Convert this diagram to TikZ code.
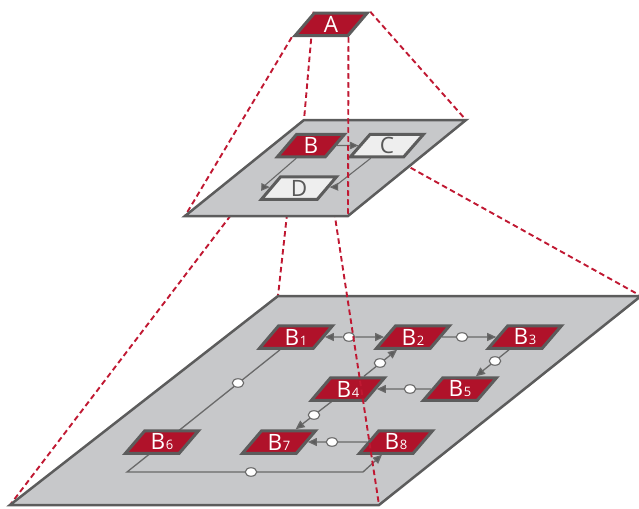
\documentclass[tikz,border=0pt]{standalone}
\usepackage{fontspec}
\setmainfont{Open Sans}
\usetikzlibrary{shapes.geometric,arrows.meta}
\definecolor{nodered}{RGB}{176,18,42}
\definecolor{dashred}{RGB}{192,24,50}
\definecolor{edgegrey}{RGB}{92,92,92}
\definecolor{planegrey}{RGB}{199,200,202}
\definecolor{lightnode}{RGB}{238,238,238}
\definecolor{conngrey}{RGB}{105,105,105}
\definecolor{textgrey}{RGB}{88,88,88}
\pgfdeclarelayer{back}
\pgfdeclarelayer{planeone}
\pgfdeclarelayer{connone}
\pgfdeclarelayer{nodeone}
\pgfdeclarelayer{overone}
\pgfdeclarelayer{planetwo}
\pgfdeclarelayer{conntwo}
\pgfdeclarelayer{nodetwo}
\pgfdeclarelayer{overtwo}
\pgfsetlayers{back,planeone,connone,nodeone,overone,planetwo,conntwo,nodetwo,overtwo,main}
\newcommand\Bidx[1]{B{\fontsize{13pt}{13pt}\selectfont\kern0.6pt #1}}
\tikzset{
  pgram/.style={trapezium, trapezium left angle=40, trapezium right angle=140,
    trapezium stretches body, minimum height=22.5pt, inner sep=0pt,
    line width=3pt, draw=edgegrey, font=\fontsize{22.5pt}{22.5pt}\selectfont},
  redpgram/.style={pgram, fill=nodered, text=white, minimum width=73pt},
  greypgram/.style={pgram, fill=lightnode, text=textgrey, minimum width=74pt},
  plane/.style={fill=planegrey, draw=edgegrey, line width=2.5pt, line join=miter},
  dashline/.style={draw=dashred, line width=1.9pt, dash pattern=on 5.5pt off 3.5pt},
  conn/.style={draw=conngrey, line width=1.3pt},
  connthin/.style={draw=conngrey, line width=1.1pt},
  arr/.style={-{Triangle[length=9pt,width=8pt,fill=edgegrey]}},
  arrsmall/.style={-{Triangle[length=8.5pt,width=7.5pt,fill=edgegrey]}},
  ell/.style={ellipse, draw=conngrey, fill=white, line width=1.1pt,
    minimum width=11.5pt, minimum height=8.5pt, inner sep=0pt},
}
\begin{document}
\begin{tikzpicture}[x=1pt,y=-1pt]
\useasboundingbox (0,0) rectangle (639,508);
% plane corners
\coordinate (MTL) at (304,120);
\coordinate (MTR) at (466,120);
\coordinate (MBR) at (348,216);
\coordinate (MBL) at (185,216);
\coordinate (PTL) at (278,296);
\coordinate (PTR) at (641,296);
\coordinate (PBR) at (379,505);
\coordinate (PBL) at (10,505);
% top node
\node[redpgram, minimum width=72pt] (A) at (331,24.5) {A};
% middle plane
\begin{pgfonlayer}{planetwo}
\draw[plane] (MTL) -- (MTR) -- (MBR) -- (MBL) -- cycle;
\end{pgfonlayer}
\begin{pgfonlayer}{nodetwo}
\node[redpgram, minimum width=67pt] (B) at (311,145.5) {B};
\node[greypgram, minimum width=73pt] (C) at (387,145.5) {C};
\node[greypgram, minimum width=75pt] (D) at (299,188) {D};
\end{pgfonlayer}
\coordinate (cBD) at (263,187);
\coordinate (cCD) at (334,187);
\begin{pgfonlayer}{conntwo}
\draw[connthin, arrsmall] (B) -- (C);
\draw[connthin, arrsmall] (B) -- (cBD) -- (D);
\draw[connthin, arrsmall] (C) -- (cCD) -- (D);
\end{pgfonlayer}
% bottom plane
\begin{pgfonlayer}{planeone}
\draw[plane] (PTL) -- (PTR) -- (PBR) -- (PBL) -- cycle;
\end{pgfonlayer}
\begin{pgfonlayer}{nodeone}
\node[redpgram] (B1) at (296,337) {\Bidx{1}};
\node[redpgram] (B2) at (413,337) {\Bidx{2}};
\node[redpgram] (B3) at (525,337) {\Bidx{3}};
\node[redpgram] (B4) at (348,389) {\Bidx{4}};
\node[redpgram] (B5) at (460,389) {\Bidx{5}};
\node[redpgram] (B6) at (162,442) {\Bidx{6}};
\node[redpgram] (B7) at (279,442) {\Bidx{7}};
\node[redpgram] (B8) at (396,442) {\Bidx{8}};
\node[ell] (e12) at (349,337) {};
\node[ell] (e23) at (462,337) {};
\node[ell] (e35) at (495,361) {};
\node[ell] (e54) at (410,389) {};
\node[ell] (e42) at (380,363) {};
\node[ell] (e47) at (314,415) {};
\node[ell] (e87) at (332,442) {};
\node[ell] (e16) at (238,383) {};
\node[ell] (e68) at (251,472) {};
\end{pgfonlayer}
\coordinate (c1) at (127,472);
\coordinate (c2) at (363,472);
\begin{pgfonlayer}{connone}
\draw[conn, arr] (e12) -- (B1);
\draw[conn, arr] (e12) -- (B2);
\draw[conn, arr] (B2) -- (B3);
\draw[conn, arr] (B3) -- (B5);
\draw[conn, arr] (B5) -- (B4);
\draw[conn, arr] (B4) -- (B2);
\draw[conn, arr] (B4) -- (B7);
\draw[conn, arr] (B8) -- (B7);
\draw[conn, arr] (B1) -- (c1) -- (c2) -- (B8);
\end{pgfonlayer}
% dashed projection lines
\begin{pgfonlayer}{back}
\draw[dashline] (A.top left corner) -- (MTL);
\draw[dashline] (A.top right corner) -- (MTR);
\draw[dashline] (A.bottom left corner) -- (MBL);
\draw[dashline] (B.top left corner) -- (PTL);
\draw[dashline] (B.top right corner) -- (PTR);
\draw[dashline] (B.bottom left corner) -- (PBL);
\end{pgfonlayer}
\begin{pgfonlayer}{overone}
\draw[dashline] (B.bottom right corner) -- (PBR);
\end{pgfonlayer}
\begin{pgfonlayer}{overtwo}
\draw[dashline] (A.bottom right corner) -- (MBR);
\end{pgfonlayer}
\end{tikzpicture}
\end{document}
